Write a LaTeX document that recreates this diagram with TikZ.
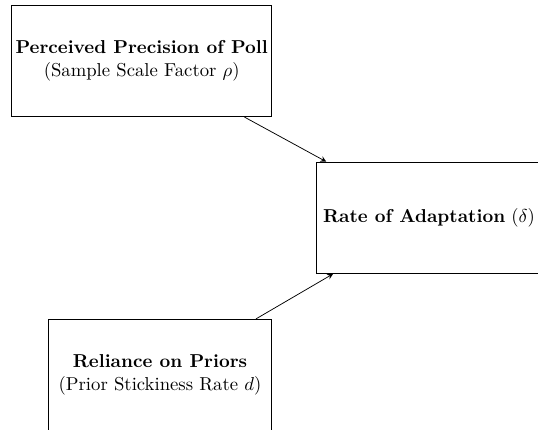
\documentclass[tikz,border=0pt]{standalone}
\usepackage{amsmath,amssymb,amsfonts}
\usetikzlibrary{arrows}

\begin{document}
\begin{tikzpicture}[x=0.535pt, y=-0.535pt,
  factor/.style={draw, align=center, inner xsep=1pt, minimum height=59.6pt}]
\clip (0,0) rectangle (538,430);
\node[factor, minimum width=139pt] (poll) at (141.7,61) {\textbf{Perceived Precision of Poll}\\(Sample Scale Factor $\rho$)};
\node[factor, minimum width=120pt] (rate) at (429,217.8) {\textbf{Rate of Adaptation} ($\delta$)};
\node[factor, minimum width=119.5pt] (priors) at (160,375) {\textbf{Reliance on Priors}\\(Prior Stickiness Rate $d$)};
\draw[-stealth] (poll) -- (rate);
\draw[-stealth] (priors) -- (rate);
\end{tikzpicture}
\end{document}
